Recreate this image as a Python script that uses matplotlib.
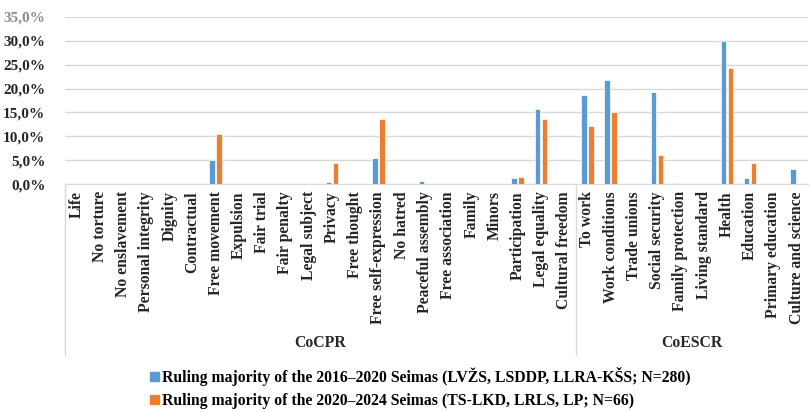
import numpy as np
import matplotlib.pyplot as plt
from matplotlib.patches import Patch

cats_cpr = ["Life", "No torture", "No enslavement", "Personal integrity", "Dignity",
            "Contractual", "Free movement", "Expulsion", "Fair trial", "Fair penalty",
            "Legal subject", "Privacy", "Free thought", "Free self-expression", "No hatred",
            "Peaceful assembly", "Free association", "Family", "Minors", "Participation",
            "Legal equality", "Cultural freedom"]
cats_escr = ["To work", "Work conditions", "Trade unions", "Social security",
             "Family protection", "Living standard", "Health", "Education",
             "Primary education", "Culture and science"]

# percentages
seimas_2016 = [0, 0, 0, 0, 0, 0, 5.0, 0, 0, 0, 0, 0.35, 0, 5.4, 0, 0.6, 0, 0, 0, 1.3, 15.7, 0,
               18.6, 21.8, 0, 19.3, 0.3, 0, 30.0, 1.3, 0, 3.2]
seimas_2020 = [0, 0, 0, 0, 0, 0, 10.6, 0, 0, 0, 0, 4.5, 0, 13.7, 0, 0, 0, 0, 0, 1.4, 13.6, 0,
               12.1, 15.1, 0, 6.1, 0, 0, 24.3, 4.5, 0, 0]

labels = ["Ruling majority of the 2016\u20132020 Seimas (LV\u017dS, LSDDP, LLRA-K\u0160S; N=280)",
          "Ruling majority of the 2020\u20132024 Seimas (TS-LKD, LRLS, LP; N=66)"]
groups = ["CoCPR", "CoESCR"]

blue = "#5B9BD5"
orange = "#ED7D31"
grid_c = "#D9D9D9"
serif = "Liberation Serif"

cats = cats_cpr + cats_escr
x = np.arange(len(cats))
w = 0.24

fig = plt.figure(figsize=(8.09, 4.12), dpi=100)
ax = fig.add_axes([0.080, 0.553, 0.919, 0.406])

ax.bar(x - w / 2 - 0.03, seimas_2016, w, color=blue, edgecolor="white", linewidth=0.5, zorder=3)
ax.bar(x + w / 2 + 0.03, seimas_2020, w, color=orange, edgecolor="white", linewidth=0.5, zorder=3)

ax.set_xlim(-0.5, len(cats) - 0.5)
ax.set_ylim(0, 35)
yt = np.arange(0, 36, 5)
ax.set_yticks(yt)
ax.set_yticklabels([("%.1f%%" % v).replace(".", ",") for v in yt],
                   fontfamily=serif, fontweight="bold", fontsize=11, color="#262626")
ax.get_yticklabels()[-1].set_color("#8C8C8C")
ax.yaxis.grid(True, color=grid_c, linewidth=1, zorder=0)
ax.set_xticks(x)
ax.set_xticklabels(cats, rotation=90, fontfamily=serif, fontweight="bold", fontsize=11.3,
                   color="#262626")
ax.tick_params(axis="both", length=0)
ax.tick_params(axis="x", pad=5)
ax.tick_params(axis="y", pad=14)

for s in ["top", "right", "left"]:
    ax.spines[s].set_visible(False)
ax.spines["bottom"].set_color(grid_c)

# group separators and labels under the category labels
trans = ax.get_xaxis_transform()
for xv in [-0.5, len(cats_cpr) - 0.5]:
    ax.plot([xv, xv], [0, -1.02], color=grid_c, linewidth=1, transform=trans, clip_on=False)
ax.text((len(cats_cpr) - 1) / 2, -0.95, groups[0], transform=trans, ha="center", va="center",
        fontfamily=serif, fontweight="bold", fontsize=11.3, color="#262626")
ax.text(len(cats_cpr) + (len(cats_escr) - 1) / 2, -0.95, groups[1], transform=trans,
        ha="center", va="center", fontfamily=serif, fontweight="bold", fontsize=11.3,
        color="#262626")

handles = [Patch(color=blue), Patch(color=orange)]
fig.legend(handles, labels, loc="center", bbox_to_anchor=(0.52, 0.058), ncol=1, frameon=False,
           handlelength=0.55, handleheight=0.55, handletextpad=0.2, labelspacing=0.45,
           prop={"family": serif, "weight": "bold", "size": 11.3})

fig.savefig("out.png", dpi=100)
